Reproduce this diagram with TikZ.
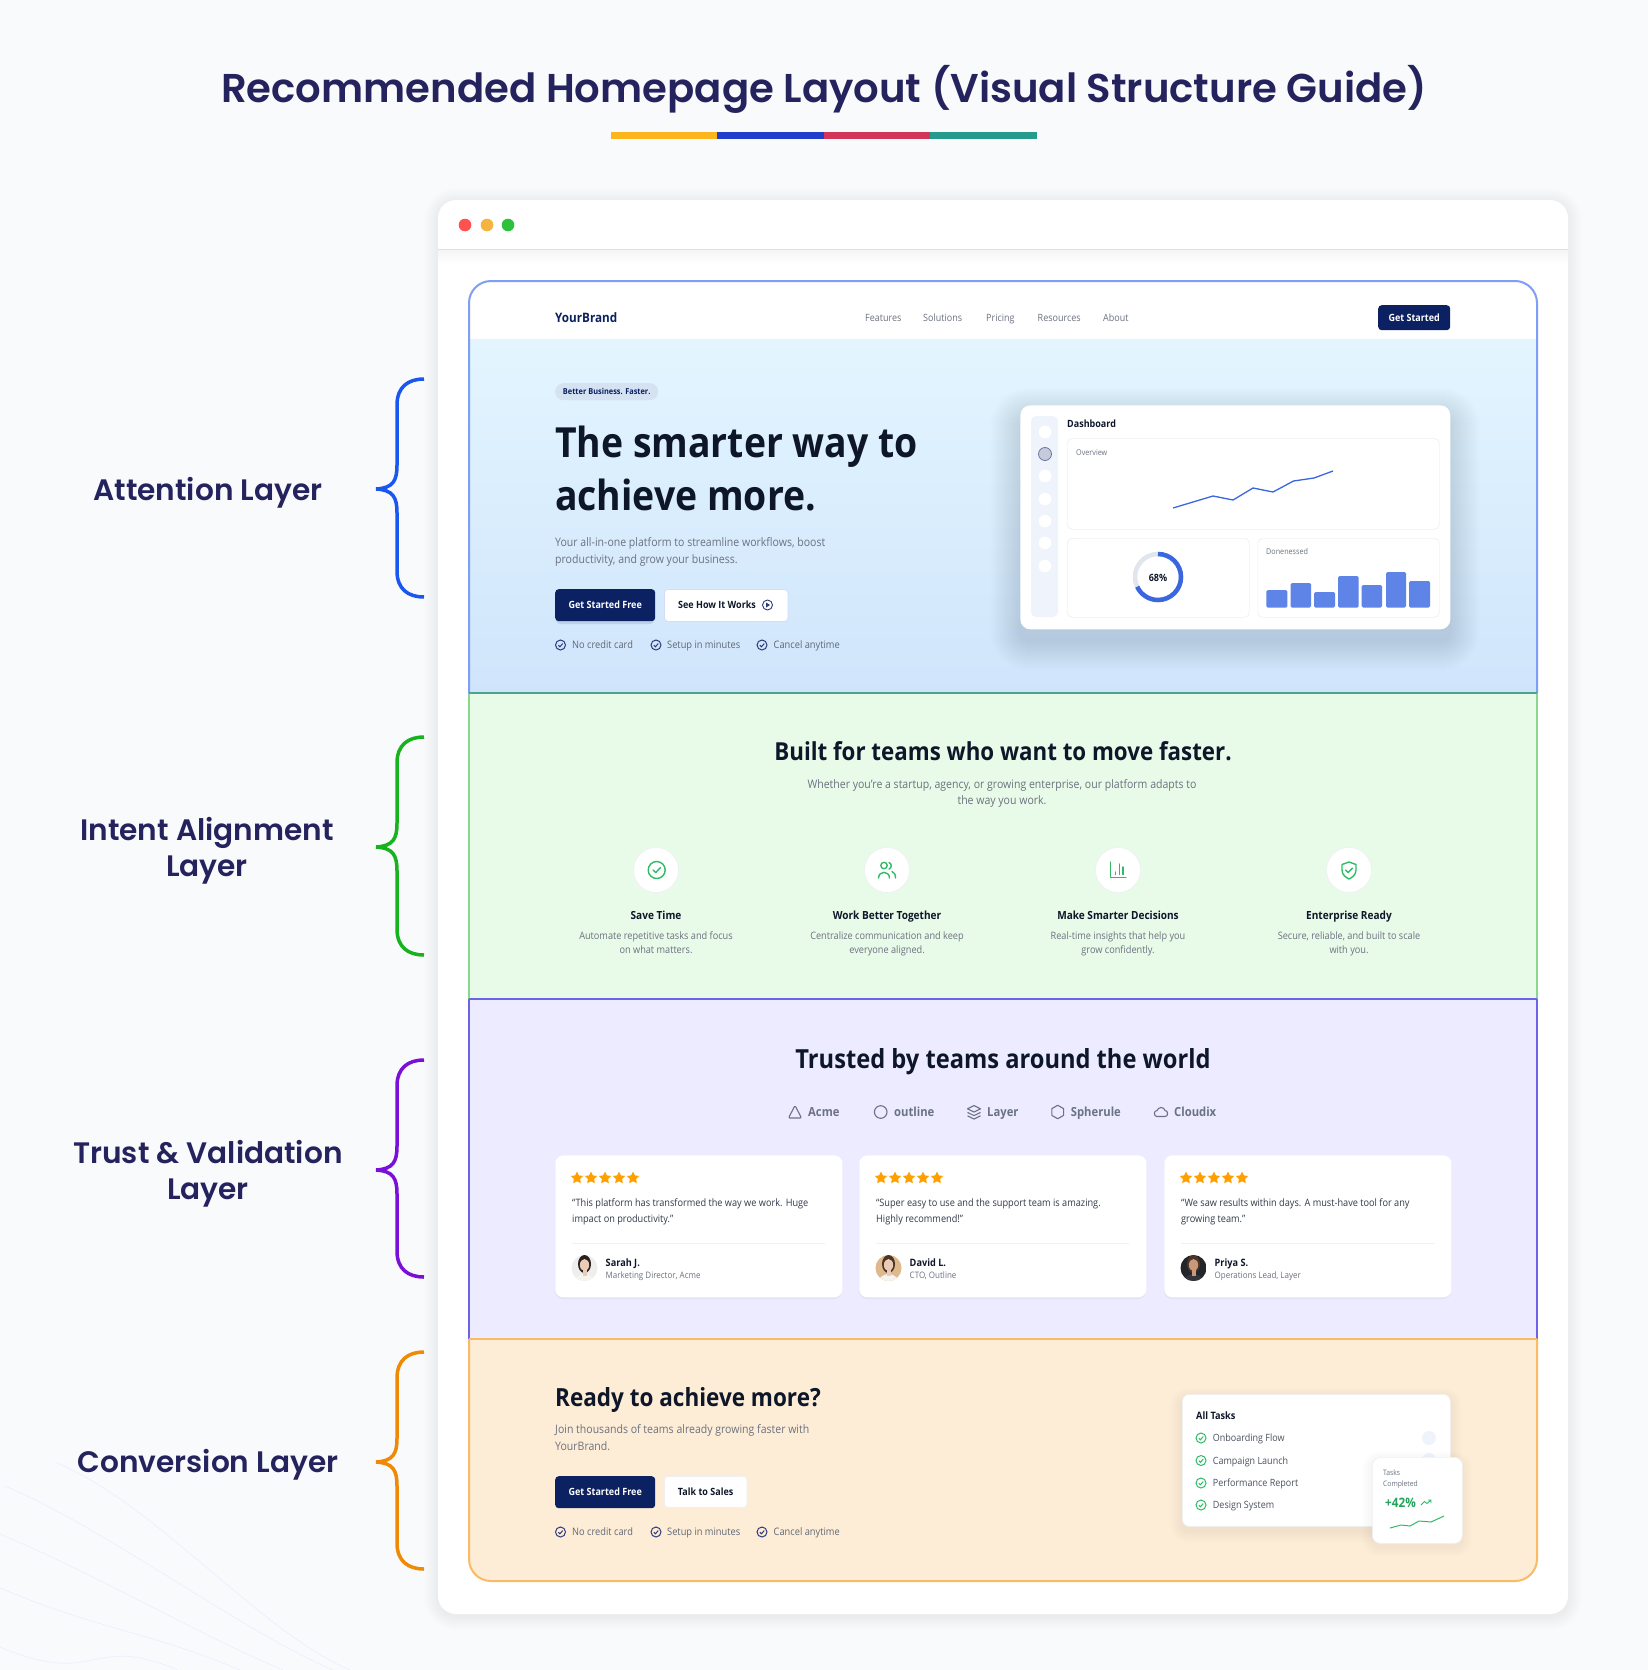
\documentclass[tikz,border=0pt]{standalone}
\usepackage{fontspec}
\usetikzlibrary{shapes.geometric}
\setmainfont{Open Sans}[FakeStretch=0.9]
\newfontfamily\titlefont{Poppins}[BoldFont={Poppins SemiBold}]

\definecolor{pagebg}{HTML}{F9FAFC}
\definecolor{inknavy}{HTML}{25235E}
\definecolor{inkdark}{HTML}{0E1729}
\definecolor{inkgrey}{HTML}{6B7280}
\definecolor{btnnavy}{HTML}{0B2161}
\definecolor{linepale}{HTML}{EEF0F4}
\definecolor{shadowtint}{HTML}{1E3A5F}
\definecolor{framehero}{HTML}{7F9EF5}
\definecolor{framegreen}{HTML}{8AD88F}
\definecolor{framelilac}{HTML}{6C63E8}
\definecolor{framepeach}{HTML}{F9BB65}
\definecolor{tealline}{HTML}{4AA58A}
\definecolor{herotop}{HTML}{E3F5FE}
\definecolor{herobot}{HTML}{D0E5FC}
\definecolor{secgreen}{HTML}{E8FAE8}
\definecolor{seclilac}{HTML}{EDEBFF}
\definecolor{secpeach}{HTML}{FEEDD6}
\definecolor{badgefill}{HTML}{D5E2F2}
\definecolor{ringgrey}{HTML}{E0E5EE}
\definecolor{chartblue}{HTML}{3A66E0}
\definecolor{barblue}{HTML}{5F84E8}
\definecolor{iconnavy}{HTML}{2C3A7A}
\definecolor{icongreen}{HTML}{2FBB66}
\definecolor{numgreen}{HTML}{22A55B}
\definecolor{logogrey}{HTML}{6B7284}
\definecolor{starorange}{HTML}{FF9F00}
\definecolor{sideblue}{HTML}{EFF4FC}
\definecolor{segyellow}{HTML}{FDB51E}
\definecolor{segblue}{HTML}{1F3ECB}
\definecolor{segred}{HTML}{D2355A}
\definecolor{segteal}{HTML}{279A8E}
\definecolor{braceblue}{HTML}{1A56F0}
\definecolor{bracegreen}{HTML}{16B31E}
\definecolor{bracepurple}{HTML}{7A10D8}
\definecolor{braceorange}{HTML}{EF8A07}
\definecolor{dotred}{HTML}{FF5250}
\definecolor{dotamber}{HTML}{F5B33F}
\definecolor{dotgreen}{HTML}{2DC13D}
\definecolor{lightgrey}{HTML}{EEEEEE}
\definecolor{tanbg}{HTML}{DFB88C}
\definecolor{darkbg}{HTML}{22252A}
\definecolor{hairblack}{HTML}{2A2220}
\definecolor{hairbrown}{HTML}{4A3528}
\definecolor{skinpale}{HTML}{EBCBB6}
\definecolor{skintan}{HTML}{C89878}
\definecolor{shirtwhite}{HTML}{F6F4F0}
\definecolor{shirtdark}{HTML}{33353A}

\tikzset{
  oneline/.style={inner sep=0pt, text height=\dimexpr #1pt*84/100\relax, text depth=\dimexpr #1pt*12/100\relax},
  txt/.style={oneline=#1, anchor=west, font=\fontsize{#1}{#1}\selectfont},
  btxt/.style={oneline=#1, anchor=west, font=\fontsize{#1}{#1}\selectfont\bfseries},
  ctxt/.style={oneline=#1, anchor=center, font=\fontsize{#1}{#1}\selectfont},
  cbtxt/.style={oneline=#1, anchor=center, font=\fontsize{#1}{#1}\selectfont\bfseries},
  wcard/.style={rectangle, fill=white, draw=linepale, line width=0.7pt, anchor=north west, inner sep=0pt},
  navybtn/.style={rectangle, fill=btnnavy, text=white, rounded corners=3.5pt, anchor=north west, inner sep=0pt, font=\fontsize{10}{10}\selectfont\bfseries},
  whitebtn/.style={rectangle, fill=white, draw=framehero!35, line width=0.8pt, text=inkdark, rounded corners=3.5pt, anchor=north west, inner sep=0pt, font=\fontsize{10}{10}\selectfont\bfseries},
  layerlabel/.style={inner sep=0pt, anchor=center, align=center, text=inknavy, font=\fontsize{29.6}{36}\selectfont\titlefont\bfseries},
  checkicon/.pic={
    \draw[line width=1pt, pic actions] (0,0) circle[radius=5];
    \draw[line width=1pt, pic actions] (-2.2,0.2) -- (-0.6,1.8) -- (2.2,-1.4);
  },
}

\newcommand{\softshadow}[8]{%
  \foreach \s in {1,...,#6}{
    \fill[shadowtint, opacity=#8, rounded corners={#5+\s}] ({#1-\s},{#2-\s+#7}) rectangle ({#3+\s},{#4+\s+#7});
  }%
}

\begin{document}
\begin{tikzpicture}[x=1pt, y=-1pt]

\useasboundingbox (0,0) rectangle (1648,1670);
\fill[pagebg] (0,0) rectangle (1648,1670);

% faint rays, bottom left
\foreach \xa/\ya/\xb in {57/1463/350, 5/1486/333, 0/1534/283, 0/1588/240, 0/1647/178}{
  \draw[framehero!16, line width=0.6pt] (\xa,\ya) .. controls ({\xa+100},{\ya+42}) and ({\xb-90},{1670-38}) .. (\xb,1670);
}

\node at (824,88.5) [cbtxt=40.2, text=inknavy, font=\fontsize{40.2}{40.2}\selectfont\titlefont\bfseries] (pagetitle) {Recommended Homepage Layout (Visual Structure Guide)};

\foreach \xa/\xb/\col in {611/717/segyellow, 717/824/segblue, 824/930/segred, 930/1037/segteal}{
  \fill[\col] (\xa,132) rectangle (\xb,138.5);
}

% side labels and braces
\node at (208,492.5) [layerlabel] (attention) {Attention Layer};
\node at (207,850.5) [layerlabel] (intent) {Intent Alignment\\Layer};
\node at (208,1173.5) [layerlabel] (trust) {Trust \& Validation\\Layer};
\node at (208,1464.5) [layerlabel] (conversion) {Conversion Layer};

\foreach \col/\ya/\yb/\yc in {braceblue/379/489/597, bracegreen/737/847/955, bracepurple/1060/1170/1277, braceorange/1352/1462/1569}{
  \draw[\col, line width=3.5pt]
    (424,\ya) .. controls (408,\ya) and (397,{\ya+8}) .. (397,{\ya+26})
    -- (397,{\yb-24}) .. controls (397,{\yb-8}) and (393,{\yb-1}) .. (376,\yb)
    .. controls (393,{\yb+1}) and (397,{\yb+8}) .. (397,{\yb+24})
    -- (397,{\yc-26}) .. controls (397,{\yc-8}) and (408,\yc) .. (424,\yc);
}

% browser window
\softshadow{438}{200}{1568}{1614}{18}{14}{2}{.0025}
\fill[white, rounded corners=18pt] (438,200) rectangle (1568,1614);
\shade[top color=black!4, bottom color=white] (438,250) rectangle (1568,264);
\draw[line width=1.2pt, black!12] (438,249.5) -- (1568,249.5);
\foreach \x/\col in {465/dotred, 487/dotamber, 508/dotgreen}{
  \fill[\col] (\x,225) circle[radius=6.3];
}

% sections of the page
\fill[white, rounded corners=22pt] (469,339) -- (469,281) -- (1537,281) -- (1537,339);
\shade[top color=herotop, bottom color=herobot] (469,339) rectangle (1537,693);
\fill[secgreen] (469,693) rectangle (1537,999);
\fill[seclilac] (469,999) rectangle (1537,1339);
\fill[secpeach, rounded corners=22pt] (469,1339) -- (469,1581) -- (1537,1581) -- (1537,1339);

\draw[framehero, line width=2pt, rounded corners=22pt] (469,693) -- (469,281) -- (1537,281) -- (1537,693);
\draw[framegreen, line width=2pt] (469,693) -- (469,999) (1537,693) -- (1537,999);
\draw[framelilac, line width=2pt] (469,999) -- (469,1339) (1537,999) -- (1537,1339);
\draw[framepeach, line width=2pt, rounded corners=22pt] (469,1339) -- (469,1581) -- (1537,1581) -- (1537,1339);
\draw[framepeach, line width=2pt] (469,1339) -- (1537,1339);
\draw[tealline, line width=2pt] (469,693) -- (1537,693);
\draw[framelilac, line width=2pt] (469,999) -- (1537,999);

% nav bar
\node at (555,318) [btxt=13, text=btnnavy] (brand) {YourBrand};
\foreach \x/\w in {865/Features, 923/Solutions, 986/Pricing, 1037.5/Resources, 1103/About}{
  \node at (\x,318) [txt=10, text=inkgrey] (nav\w) {\w};
}
\node at (1378,305) [navybtn, minimum width=72pt, minimum height=25pt] (navbtn) {Get Started};

% hero
\node at (555,383) [rectangle, fill=badgefill, rounded corners=8.5pt, anchor=north west, inner sep=0pt, minimum width=103pt, minimum height=17pt, text=btnnavy, font=\fontsize{8.2}{8.2}\selectfont\bfseries] (badge) {Better Business. Faster.};
\node at (555,443) [btxt=41.5, text=inkdark] (heroa) {The smarter way to};
\node at (555,495.5) [btxt=41.5, text=inkdark] (herob) {achieve more.};
\node at (555,542) [txt=11.7, text=inkgrey] (herosuba) {Your all-in-one platform to streamline workflows, boost};
\node at (555,559) [txt=11.7, text=inkgrey] (herosubb) {productivity, and grow your business.};
\fill[shadowtint, opacity=.12, rounded corners=4pt] (556,592) rectangle (654,624);
\node at (555,589) [navybtn, minimum width=100pt, minimum height=32pt] (herobtn) {Get Started Free};
\node at (664,589) [whitebtn, minimum width=123.5pt, minimum height=32pt] (howbtn) {};
\node at (678,605) [btxt=10, text=inkdark] (howtxt) {See How It Works};
\draw[iconnavy, line width=0.9pt] (767.5,605) circle[radius=5];
\fill[iconnavy] (766,602.5) -- (770,605) -- (766,607.5) -- cycle;

% the two rows of ticks
\foreach \y/\r in {645/a, 1532/b}{
  \foreach \xi/\xt/\lab/\n in {560.5/572/No credit card/1, 656/667/Setup in minutes/2, 762/773.5/Cancel anytime/3}{
    \pic[draw=iconnavy] at (\xi,\y) {checkicon};
    \node at (\xt,\y) [txt=10.3, text=inkgrey!90!black] (tick\r\n) {\lab};
  }
}

% dashboard mock
\softshadow{1020}{405}{1450}{629}{10}{30}{12}{.0035}
\node at (1020,405) [wcard, draw=none, minimum width=430pt, minimum height=224pt, rounded corners=10pt] (dashcard) {};
\fill[sideblue, rounded corners=5pt] (1031,416) rectangle (1058,617);
\foreach \y in {432,454,476,499,521,543,566}{
  \fill[white] (1045,\y) circle[radius=6.3];
}
\draw[iconnavy!70, fill=iconnavy!27, line width=0.8pt] (1045,454) circle[radius=6.5];
\node at (1067,424) [btxt=10, text=inkdark] (dashtitle) {Dashboard};
\node at (1067,438) [wcard, minimum width=372pt, minimum height=91pt, rounded corners=5pt] (overview) {};
\node at (1076,453) [txt=8, text=inkgrey] (overviewlab) {Overview};
\draw[chartblue, line width=1.3pt] (1173,508) -- (1193,502) -- (1213,496) -- (1233,500) -- (1253,488) -- (1273,492) -- (1293.5,481) -- (1314,478) -- (1333,471);
\node at (1067,538) [wcard, minimum width=182pt, minimum height=79pt, rounded corners=5pt] (ringpanel) {};
\draw[ringgrey, line width=4.5pt] (1158,577) circle[radius=23];
\draw[chartblue, line width=4.5pt] (1158,554) arc[start angle=-90, end angle=155, radius=23];
\node at (1158,578) [cbtxt=10, text=inkdark] (ringlab) {68\%};
\node at (1257.5,538) [wcard, minimum width=181.5pt, minimum height=79pt, rounded corners=5pt] (barpanel) {};
\node at (1266,552) [txt=8, text=inkgrey] (barlab) {Donenessed};
\foreach \xa/\xb/\y in {1266.4/1287.4/590, 1290.5/1311/583, 1314/1335/592, 1338/1358.6/576, 1361.7/1382/585, 1386/1406/572, 1409/1430/581}{
  \fill[barblue, rounded corners=1.5pt] (\xa,\y) rectangle (\xb,607.7);
}

% intent section
\node at (1003,751.5) [cbtxt=24.8, text=inkdark] (intenthead) {Built for teams who want to move faster.};
\node at (1002,793.5) [inner sep=0pt, align=center, text=inkgrey, font=\fontsize{11.7}{16.5}\selectfont] (intentsub) {Whether you're a startup, agency, or growing enterprise, our platform adapts to\\the way you work.};
\foreach \x/\head/\la/\lb/\n in {
  656/Save Time/Automate repetitive tasks and focus/on what matters./1,
  887/Work Better Together/Centralize communication and keep/everyone aligned./2,
  1118/Make Smarter Decisions/Real-time insights that help you/grow confidently./3,
  1349/Enterprise Ready/{Secure, reliable, and built to scale}/with you./4}{
  \node at (\x,870) [circle, fill=white, draw=linepale, line width=0.6pt, minimum size=45pt, inner sep=0pt] (feat\n) {};
  \node at (\x,915) [cbtxt=11.2, text=inkdark] (feathead\n) {\head};
  \node at (\x,936) [ctxt=10.2, text=inkgrey] (featdesca\n) {\la};
  \node at (\x,950) [ctxt=10.2, text=inkgrey] (featdescb\n) {\lb};
}
\begin{scope}[icongreen, line width=1.4pt, line cap=round, line join=round]
  \draw (656.7,870) circle[radius=8.5];
  \draw (653,870) -- (655.8,872.5) -- (660.5,867.5);
  \draw (884,865.5) circle[radius=3.2];
  \draw (878.5,878) .. controls (878.5,870.5) and (889.5,870.5) .. (889.5,878);
  \draw (889,862.5) .. controls (892,863.5) and (892,868) .. (889,869);
  \draw (892,871.5) .. controls (894.5,872.5) and (895.5,874.5) .. (895.5,878);
  \draw (1110.7,862) -- (1110.7,877.5) -- (1126,877.5);
  \draw (1115.5,872) -- (1115.5,874.5) (1119.2,864) -- (1119.2,874.5) (1123,867) -- (1123,874.5);
  \draw (1349,862) -- (1356,864.5) -- (1356,870) .. controls (1356,875) and (1352,877.5) .. (1349,879) .. controls (1346,877.5) and (1342,875) .. (1342,870) -- (1342,864.5) -- cycle;
  \draw (1345.5,870) -- (1348.2,872.5) -- (1352.5,868);
\end{scope}

% trust section
\node at (1003,1059) [cbtxt=26.3, text=inkdark] (trusthead) {Trusted by teams around the world};
\foreach \x/\w in {808/Acme, 894/outline, 987/Layer, 1070.7/Spherule, 1174/Cloudix}{
  \node at (\x,1112) [btxt=12.5, text=logogrey] (logo\w) {\w};
}
\begin{scope}[logogrey, line width=1.1pt, line join=round]
  \draw[rounded corners=1.2pt] (795,1105.5) -- (801.5,1118) -- (788.5,1118) -- cycle;
  \draw (880.7,1112) circle[radius=6.3];
  \draw (974,1105.5) -- (980.5,1108.8) -- (974,1112) -- (967.5,1108.8) -- cycle;
  \draw (967.5,1112.4) -- (974,1115.6) -- (980.5,1112.4);
  \draw (967.5,1115.8) -- (974,1119) -- (980.5,1115.8);
  \node at (1057.7,1112) [regular polygon, regular polygon sides=6, rotate=30, draw, minimum size=13.5pt, inner sep=0pt] (hexlogo) {};
  \draw (1157,1116.5) .. controls (1153.5,1116.5) and (1153.5,1110.5) .. (1157,1110.5) .. controls (1158.5,1106.5) and (1164,1106.5) .. (1165,1110.5) .. controls (1168.5,1110.5) and (1168.5,1116.5) .. (1165,1116.5) -- cycle;
\end{scope}

\foreach \x/\qa/\qb/\who/\role/\n/\bg/\hair/\skin/\shirt in {
  555/{``This platform has transformed the way we work. Huge}/{impact on productivity.''}/Sarah J./{Marketing Director, Acme}/1/lightgrey/hairblack/skinpale/shirtwhite,
  859/{``Super easy to use and the support team is amazing.}/{Highly recommend!''}/David L./{CTO, Outline}/2/tanbg/hairbrown/skinpale/shirtwhite,
  1164/{``We saw results within days. A must-have tool for any}/{growing team.''}/Priya S./{Operations Lead, Layer}/3/darkbg/hairbrown/skintan/shirtdark}{
  \fill[shadowtint, opacity=.05, rounded corners=8pt] (\x,1157) rectangle ({\x+287},1299);
  \node at (\x,1155) [wcard, draw=none, minimum width=287pt, minimum height=142pt, rounded corners=8pt] (review\n) {};
  \foreach \k in {0,...,4}{
    \node at ({\x+22+14*\k},1178) [star, star points=5, star point ratio=2, fill=starorange, minimum size=13pt, inner sep=0pt] (star\n\k) {};
  }
  \node at ({\x+17},1203) [txt=10.2, text=inkdark!85!white] (quote\n a) {\qa};
  \node at ({\x+17},1219) [txt=10.2, text=inkdark!85!white] (quote\n b) {\qb};
  \draw[linepale, line width=1pt] ({\x+17},1243) -- ({\x+270},1243);
  \begin{scope}
    \clip ({\x+29.5},1268) circle[radius=13];
    \fill[\bg] ({\x+16},1255) rectangle ({\x+43},1281);
    \fill[\hair] ({\x+29.5},1264) ellipse[x radius=6.5, y radius=9];
    \fill[\shirt] ({\x+29.5},1285) ellipse[x radius=11, y radius=11];
    \fill[\skin] ({\x+29.5},1265) ellipse[x radius=4.6, y radius=6];
    \fill[\skin] ({\x+27.5},1269) rectangle ({\x+31.5},1275.5);
  \end{scope}
  \node at ({\x+50.5},1263) [btxt=10.2, text=inkdark] (who\n) {\who};
  \node at ({\x+50.5},1275.5) [txt=8.9, text=inkgrey] (role\n) {\role};
}

% conversion section
\node at (555,1397) [btxt=25, text=inkdark] (readyhead) {Ready to achieve more?};
\node at (555,1429) [txt=11.7, text=inkgrey] (readya) {Join thousands of teams already growing faster with};
\node at (555,1446) [txt=11.7, text=inkgrey] (readyb) {YourBrand.};
\node at (555,1476) [navybtn, minimum width=100pt, minimum height=32pt] (readybtn) {Get Started Free};
\node at (664,1476) [whitebtn, draw=linepale, minimum width=82.5pt, minimum height=31pt] (salesbtn) {Talk to Sales};

% task cards
\softshadow{1182}{1394}{1450}{1526}{7}{12}{5}{.005}
\node at (1182,1394) [wcard, minimum width=268pt, minimum height=132pt, rounded corners=7pt] (taskcard) {};
\node at (1196,1416) [btxt=10.2, text=inkdark] (tasktitle) {All Tasks};
\foreach \y/\lab/\n in {1438/Onboarding Flow/1, 1460.5/Campaign Launch/2, 1483/Performance Report/3, 1505/Design System/4}{
  \pic[draw=icongreen] at (1201,\y) {checkicon};
  \node at (1212.7,\y) [txt=10, text=inkdark!75!white] (task\n) {\lab};
}
\fill[sideblue] (1429,1438) circle[radius=7];
\fill[sideblue] (1429,1460) circle[radius=7];
\softshadow{1372}{1457}{1462}{1543}{8}{10}{4}{.005}
\node at (1372,1457) [wcard, minimum width=90pt, minimum height=86pt, rounded corners=8pt] (statcard) {};
\node at (1383,1473) [txt=7.5, text=inkgrey] (stata) {Tasks};
\node at (1383,1484) [txt=7.5, text=inkgrey] (statb) {Completed};
\node at (1385,1503) [btxt=13, text=numgreen] (statnum) {+42\%};
\draw[icongreen, line width=0.9pt] (1421,1505) -- (1424.5,1501.5) -- (1427,1503.5) -- (1431,1500) (1428,1500) -- (1431,1500) -- (1431,1503);
\draw[icongreen, line width=1pt] (1390,1528) -- (1401,1525) -- (1410,1526) -- (1419,1521) -- (1431,1522) -- (1444,1516);

\end{tikzpicture}
\end{document}
